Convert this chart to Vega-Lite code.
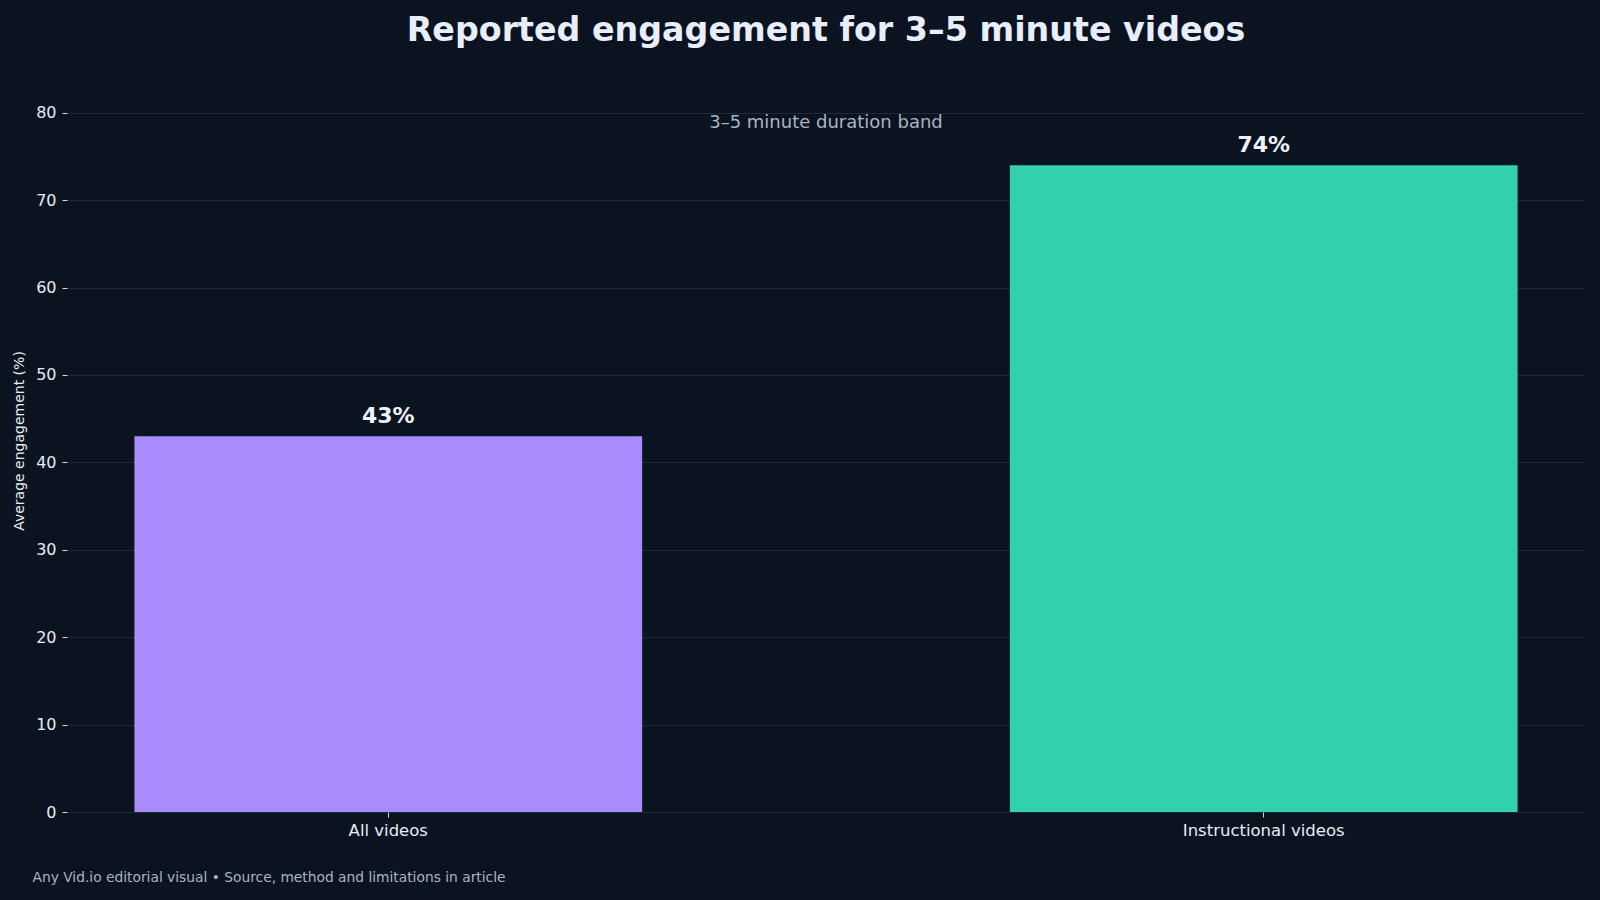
{
  "$schema": "https://vega.github.io/schema/vega-lite/v6.json",
  "description": "Reported engagement for 3-5 minute videos",
  "autosize": {"type": "none"},
  "width": 1518,
  "height": 743,
  "padding": {"left": 67, "top": 69, "right": 15, "bottom": 88},
  "background": "#0b1320",
  "title": {
    "text": "Reported engagement for 3–5 minute videos",
    "anchor": "middle",
    "frame": "group",
    "font": "DejaVu Sans",
    "fontSize": 33.3,
    "fontWeight": "bold",
    "color": "#e8eefb",
    "offset": 21
  },
  "data": {
    "values": [
      {"group": "All videos", "engagement": 43, "label": "43%"},
      {"group": "Instructional videos", "engagement": 74, "label": "74%"}
    ]
  },
  "config": {
    "view": {"stroke": null},
    "axis": {
      "labelFont": "DejaVu Sans",
      "titleFont": "DejaVu Sans",
      "labelColor": "#e6edf3",
      "titleColor": "#e6edf3",
      "tickColor": "#d5dbe3",
      "domain": false
    }
  },
  "encoding": {
    "x": {
      "field": "group",
      "type": "nominal",
      "sort": null,
      "scale": {"paddingInner": 0.42, "paddingOuter": 0.077},
      "axis": {
        "title": "Any Vid.io editorial visual • Source, method and limitations in article",
        "titleFontSize": 13.8,
        "titleFontWeight": "normal",
        "titleColor": "#a9b4c2",
        "titleAnchor": "start",
        "titleAlign": "left",
        "titleBaseline": "middle",
        "titleX": -35,
        "titleY": 65,
        "labelFontSize": 16.5,
        "labelAngle": 0,
        "labelPadding": 5,
        "tickSize": 5,
        "grid": false
      }
    },
    "y": {
      "field": "engagement",
      "type": "quantitative",
      "scale": {"domain": [0, 85], "nice": false},
      "axis": {
        "title": "Average engagement (%)",
        "titleFontSize": 14,
        "titleFontWeight": "normal",
        "titlePadding": 9,
        "values": [0, 10, 20, 30, 40, 50, 60, 70, 80],
        "labelFontSize": 16,
        "labelPadding": 6,
        "tickSize": 5,
        "grid": true,
        "gridColor": "#1f2a36",
        "gridWidth": 1
      }
    }
  },
  "layer": [
    {
      "mark": {"type": "bar"},
      "encoding": {
        "color": {
          "field": "group",
          "type": "nominal",
          "scale": {
            "domain": ["All videos", "Instructional videos"],
            "range": ["#a98bfe", "#32d0ab"]
          },
          "legend": null
        }
      }
    },
    {
      "mark": {
        "type": "text",
        "baseline": "bottom",
        "dy": -8,
        "font": "DejaVu Sans",
        "fontSize": 22,
        "fontWeight": "bold",
        "color": "#eef2fb"
      },
      "encoding": {"text": {"field": "label"}}
    },
    {
      "data": {"values": [{"note": "3–5 minute duration band", "level": 80}]},
      "mark": {
        "type": "text",
        "x": {"expr": "width / 2"},
        "baseline": "middle",
        "dy": 10,
        "font": "DejaVu Sans",
        "fontSize": 18,
        "color": "#a9b4c2"
      },
      "encoding": {
        "x": null,
        "y": {"field": "level", "type": "quantitative"},
        "text": {"field": "note"}
      }
    }
  ]
}
